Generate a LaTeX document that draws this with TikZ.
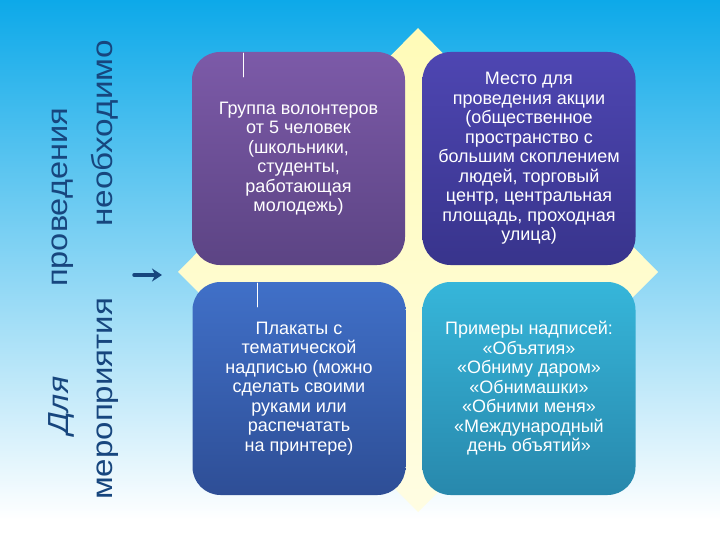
\documentclass[tikz,border=0pt]{standalone}
\usepackage{fontspec}
\setmainfont{Liberation Sans}
\newfontfamily\cellfont{Liberation Sans}
\usetikzlibrary{arrows.meta}

\definecolor{skytop}{HTML}{0DA9E9}
\definecolor{skymid}{HTML}{A8D4F3}
\definecolor{inktext}{HTML}{17467E}
\definecolor{rhombfill}{HTML}{FFFBB8}
\definecolor{crewtop}{HTML}{7C5AA8}
\definecolor{crewbot}{HTML}{5C4484}
\definecolor{placetop}{HTML}{4E46B2}
\definecolor{placebot}{HTML}{38348C}
\definecolor{postertop}{HTML}{4070C8}
\definecolor{posterbot}{HTML}{2E4E96}
\definecolor{slogantop}{HTML}{36B6DA}
\definecolor{sloganbot}{HTML}{2888AC}

\tikzset{
  cell/.style={rounded corners=28pt,minimum width=213pt,minimum height=213pt,
    inner sep=0pt,align=center,text=white,font=\cellfont\fontsize{18}{19.5}\selectfont},
  sideword/.style={rotate=90,anchor=base west,inner sep=0pt,text=inktext,
    font=\fontsize{29}{30}\selectfont},
}
\newcommand\fitword[2]{\resizebox{#1pt}{\height}{#2}}

\begin{document}
\begin{tikzpicture}[x=1pt,y=-1pt,line cap=round,line join=round]
  \useasboundingbox (0,0) rectangle (720,540);
  \fill[white] (0,0) rectangle (720,540);
  \shade[top color=skytop,middle color=skymid,bottom color=white] (0,0) rectangle (720,520);
  % yellow rhomb behind the cells
  \shade[top color=rhombfill,middle color=rhombfill,bottom color=rhombfill!40!white]
    (418,28) -- (658,272) -- (418,512) -- (178,272) -- cycle;
  % four cells
  \node[cell,top color=crewtop,bottom color=crewbot] (crew) at (298.5,158.5)
    {Группа волонтеров\\от 5 человек\\(школьники,\\студенты,\\работающая\\молодежь)};
  \node[cell,top color=placetop,bottom color=placebot] (place) at (529,158.5)
    {Место для\\проведения акции\\(общественное\\пространство с\\большим скоплением\\людей, торговый\\центр, центральная\\площадь, проходная\\улица)};
  \node[cell,top color=postertop,bottom color=posterbot] (poster) at (299,388.5)
    {Плакаты с\\тематической\\надписью (можно\\сделать своими\\руками или\\распечатать\\на принтере)};
  \node[cell,top color=slogantop,bottom color=sloganbot] (slogan) at (529,388.5)
    {Примеры надписей:\\«Объятия»\\«Обниму даром»\\«Обнимашки»\\«Обними меня»\\«Международный\\день объятий»};
  \draw[white,line width=0.8pt] (243,53) -- (243,77);
  \draw[white,line width=0.8pt] (257,283) -- (257,307);
  % rotated caption on the left
  \node[sideword,font=\fontsize{29}{30}\selectfont\itshape] (wfor) at (68,435) {\fitword{58}{Для}};
  \node[sideword] (wheld) at (67,287) {\fitword{179}{проведения}};
  \node[sideword] (wevent) at (112,500) {\fitword{202}{мероприятия}};
  \node[sideword] (wneed) at (112,227) {\fitword{187}{необходимо}};
  \coordinate (tail) at (134,275);
  \coordinate (tip) at (162,275);
  \draw[inktext,line width=3.5pt,-{Stealth[length=10pt,width=13pt]}] (tail) -- (tip);
\end{tikzpicture}
\end{document}
